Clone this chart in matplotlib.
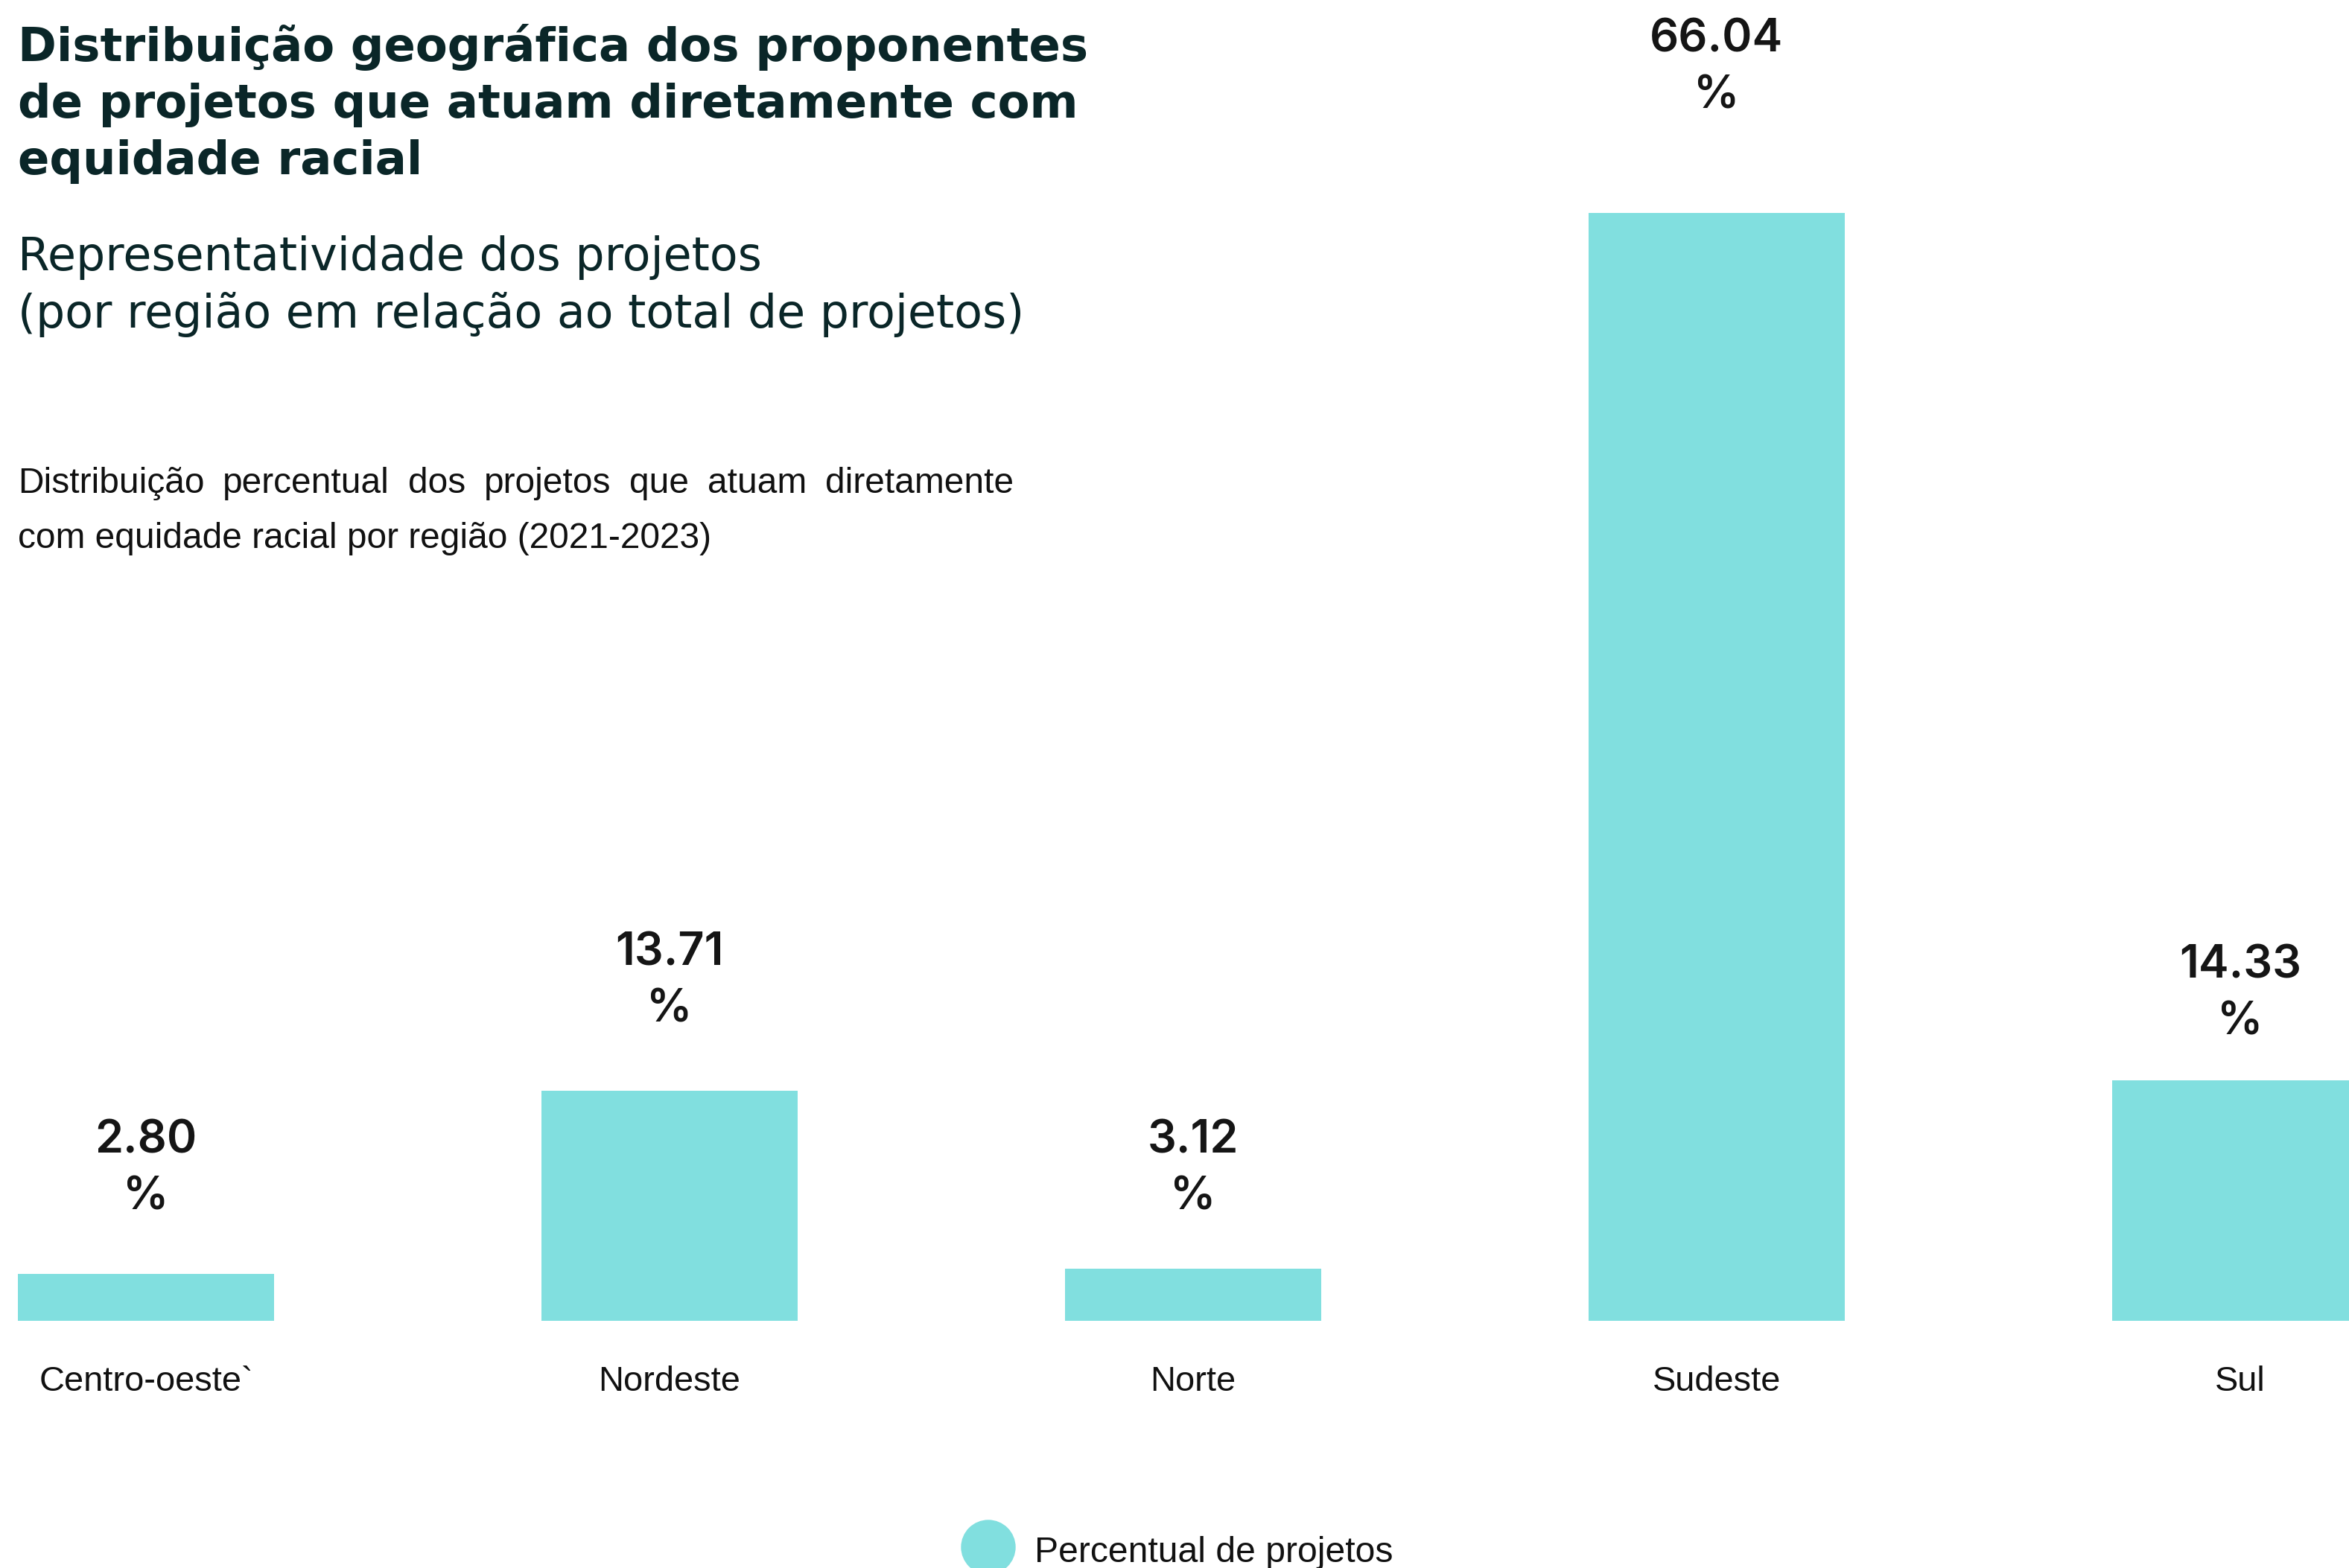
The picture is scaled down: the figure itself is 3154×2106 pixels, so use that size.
import matplotlib
matplotlib.use("Agg")
import matplotlib.pyplot as plt
from matplotlib.patches import Circle

regioes = ["Centro-oeste`", "Nordeste", "Norte", "Sudeste", "Sul"]
percentuais = [2.80, 13.71, 3.12, 66.04, 14.33]

titulo = ["Distribuição geográfica dos proponentes",
          "de projetos que atuam diretamente com",
          "equidade racial"]
subtitulo = ["Representatividade dos projetos",
             "(por região em relação ao total de projetos)"]
descricao = ["Distribuição percentual dos projetos que atuam diretamente",
             "com equidade racial por região (2021-2023)"]
legenda = "Percentual de projetos"

COR_BARRA = "#81dfdf"
COR_TITULO = "#0a2628"
W, H, DPI = 3154, 2106, 100

fig = plt.figure(figsize=(W / DPI, H / DPI), dpi=DPI)
fig.patch.set_facecolor("white")


def px_text(x, y, s, **kw):
    # x, y in pixels from the top-left corner, y is the baseline
    return fig.text(x / W, 1 - y / H, s, va="baseline", **kw)


for i, linha in enumerate(titulo):
    px_text(24, 82 + 76 * i, linha, family="DejaVu Sans", weight="bold",
            fontsize=45, color=COR_TITULO)

for i, linha in enumerate(subtitulo):
    px_text(24, 363 + 77 * i, linha, family="DejaVu Sans",
            fontsize=44.5, color=COR_TITULO)

# description: first line justified to the column width, last line left
fig.canvas.draw()
renderer = fig.canvas.get_renderer()
desc_kw = dict(family="Liberation Sans", fontsize=34.5, color="#111111")
x0, x1 = 24, 1361
for i, linha in enumerate(descricao):
    y = 662 + 74 * i
    if i == len(descricao) - 1:
        px_text(x0, y, linha, **desc_kw)
        continue
    palavras = linha.split()
    textos = [px_text(x0, y, p, **desc_kw) for p in palavras]
    larguras = [t.get_window_extent(renderer).width for t in textos]
    gap = (x1 - x0 - sum(larguras)) / (len(palavras) - 1)
    x = x0
    for t, w in zip(textos, larguras):
        t.set_x(x / W)
        x += w + gap

# bar area
base_px = 1774
ax = fig.add_axes([0, (H - base_px) / H, 1, base_px / H])
ax.set_xlim(-0.279, 4.208)
ax.set_ylim(0, base_px / 22.53)
pos = list(range(len(regioes)))
ax.bar(pos, percentuais, width=0.49, color=COR_BARRA)
for s in ax.spines.values():
    s.set_visible(False)
ax.set_yticks([])
ax.set_xticks(pos)
ax.set_xticklabels(regioes, family="Liberation Sans", fontsize=33.8, color="#111111")
ax.tick_params(axis="x", length=0, pad=43)

# value labels above each bar (gap in pixels between last baseline and bar top)
gaps = [86, 93, 79, 141, 62]
for p, v, g in zip(pos, percentuais, gaps):
    ax.annotate(f"{v:.2f}\n%", (p, v), xytext=(0, g * 72 / DPI),
                textcoords="offset points", ha="center", va="baseline",
                family="Inter", weight="semibold", fontsize=44,
                color="#151515", linespacing=1.4)

# legend
fig.add_artist(Circle((1327 / DPI, (H - 2078) / DPI), 36 / DPI,
                      transform=fig.dpi_scale_trans, color=COR_BARRA,
                      clip_on=False))
px_text(1389, 2098, legenda, family="Liberation Sans", fontsize=34.7, color="#111111")

fig.savefig("out.png", dpi=DPI)
